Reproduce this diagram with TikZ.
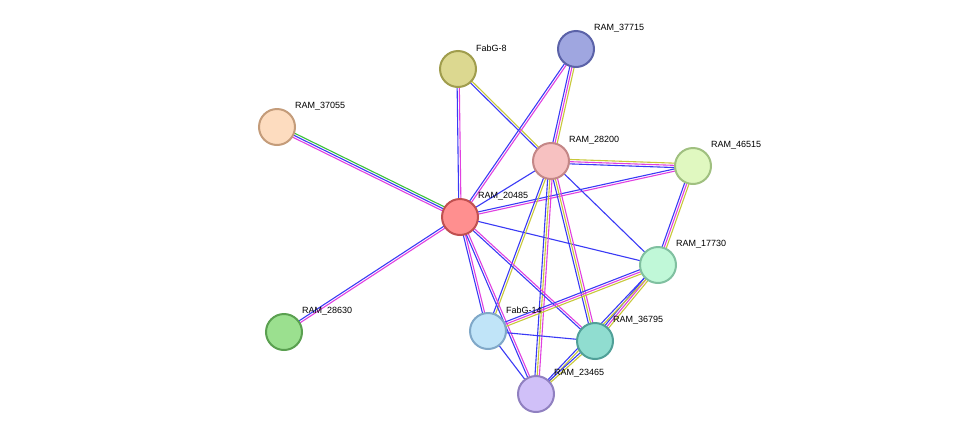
\documentclass[tikz,border=0pt]{standalone}
\usepackage{fontspec}
\setmainfont{Liberation Sans}
\usetikzlibrary{calc,backgrounds}
\definecolor{eb}{HTML}{3A3AF5}
\definecolor{em}{HTML}{E040E0}
\definecolor{ey}{HTML}{C8C83A}
\definecolor{eg}{HTML}{3AC03A}
\newcommand\edg[4]{%
\foreach \c [count=\i] in {#4}{%
\pgfmathsetmacro\o{(\i-(#3+1)/2)*2.2}%
\draw[\c,line width=1.1pt] ($(#1)!\o pt!90:(#2)$) -- ($(#2)!\o pt!-90:(#1)$);}}
\tikzset{prot/.style={circle,minimum size=36pt,inner sep=0pt,line width=2pt},
lab/.style={anchor=west,font=\fontsize{9}{11}\selectfont,inner sep=0pt}}
\begin{document}
\begin{tikzpicture}[x=1pt,y=-1pt]
\useasboundingbox (0,0) rectangle (975,440);
\foreach \n/\x/\y/\f/\b/\t in {
a37715/576/49/9FA6E0/5B62A8/RAM\_37715,
fab8/458/69/DCD890/A09D4D/FabG-8,
a37055/277/127/FDDCBF/C49C7A/RAM\_37055,
a28200/551/161/F7C1C1/C48787/RAM\_28200,
a46515/693/166/E0F8C0/A0C080/RAM\_46515,
a20485/460/217/FF8F8F/C05050/RAM\_20485,
a17730/658/265/C0F8D8/80C0A0/RAM\_17730,
a28630/284/332/9BE08F/5AA050/RAM\_28630,
fab14/488/331/C0E4F8/80A8C8/FabG-14,
a36795/595/341/90DDD0/50A098/RAM\_36795,
a23465/536/394/D0C0F8/9080C0/RAM\_23465}{
\definecolor{f}{HTML}{\f}\definecolor{b}{HTML}{\b}
\node[prot,fill=f,draw=b] (\n) at (\x,\y) {};
\node[lab] (l\n) at (\x+18,\y-21) {\t};
}
\begin{scope}[on background layer]
\edg{a37055}{a20485}{3}{em,eb,eg}
\edg{a28630}{a20485}{2}{em,eb}
\edg{fab8}{a20485}{2}{eb,em}
\edg{fab8}{a28200}{2}{eb,ey}
\edg{a37715}{a20485}{2}{eb,em}
\edg{a37715}{a28200}{3}{eb,em,ey}
\edg{a28200}{a20485}{1}{eb}
\edg{a28200}{a46515}{3}{eb,em,ey}
\edg{a20485}{a46515}{2}{em,eb}
\edg{a28200}{a17730}{1}{eb}
\edg{a20485}{a17730}{1}{eb}
\edg{a46515}{a17730}{3}{eb,em,ey}
\edg{a28200}{fab14}{2}{eb,ey}
\edg{a28200}{a36795}{3}{eb,ey,em}
\edg{a28200}{a23465}{3}{eb,ey,em}
\edg{a20485}{fab14}{2}{eb,em}
\edg{a20485}{a36795}{2}{eb,em}
\edg{a20485}{a23465}{2}{eb,em}
\edg{a17730}{fab14}{3}{eb,em,ey}
\edg{a17730}{a36795}{3}{eb,em,ey}
\edg{a17730}{a23465}{2}{eb,ey}
\edg{fab14}{a36795}{1}{eb}
\edg{fab14}{a23465}{1}{eb}
\edg{a36795}{a23465}{2}{eb,ey}
\end{scope}
\end{tikzpicture}
\end{document}
